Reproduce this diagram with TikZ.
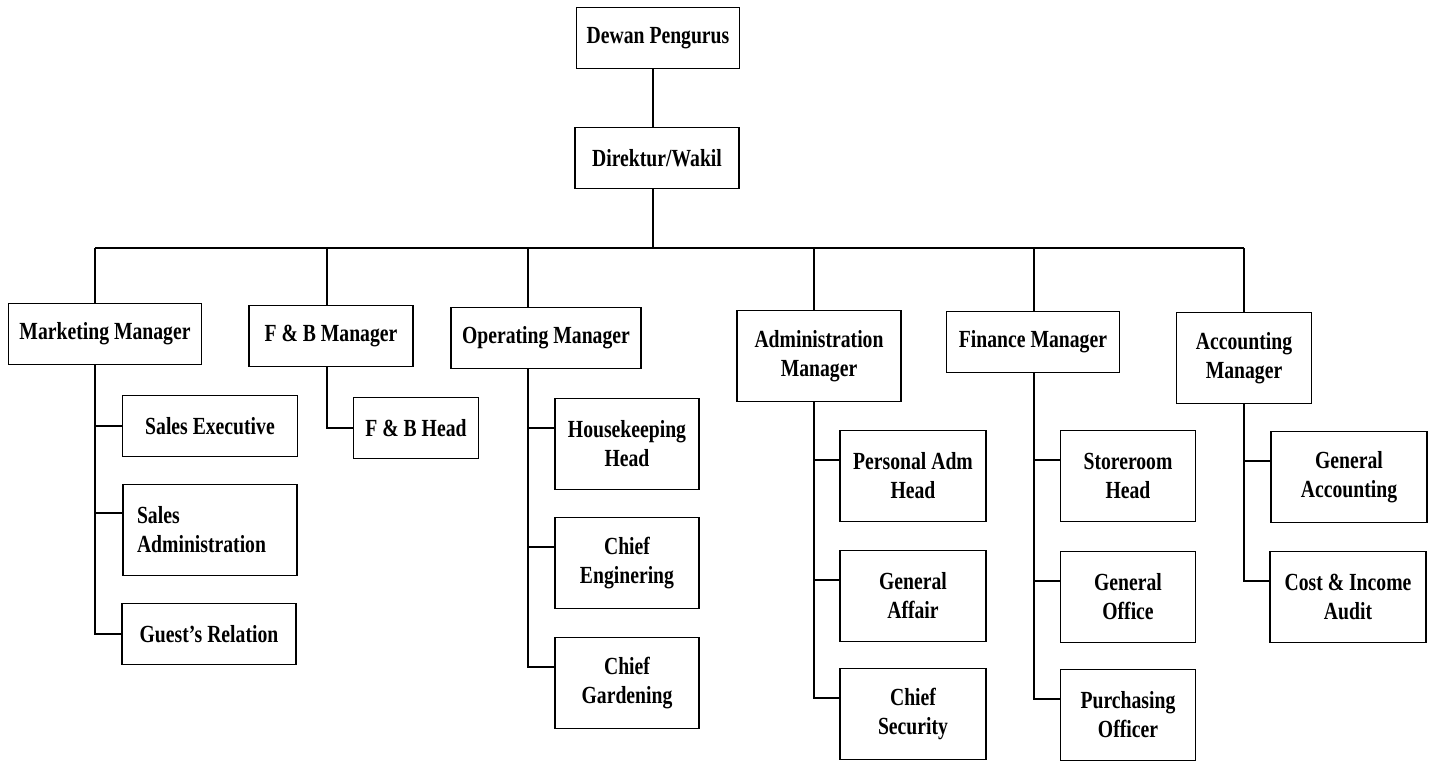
\documentclass[tikz,border=0pt]{standalone}
\usepackage{fontspec}
\setmainfont{Liberation Serif}[FakeStretch=0.8]

\begin{document}
\begin{tikzpicture}[x=0.02cm,y=-0.02cm]
  \tikzstyle{cell} = [rectangle,draw=black,line width=1.1pt,minimum
  height=1.22cm,align=center,inner sep=2pt,font=\fontsize{14}{16.5}\selectfont\bfseries]
  \tikzstyle{tcell} = [cell,minimum height=1.82cm]
  \tikzstyle{link} = [line width=1.1pt]

  \useasboundingbox (0,0) rectangle (1433,762);

  % top of the chart
  \node[cell,minimum width=3.26cm] (dewan) at (658,38) {Dewan Pengurus};
  \node[cell,minimum width=3.28cm] (direktur) at (657,158) {Direktur/Wakil};

  % managers
  \node[cell,minimum width=3.86cm] (mkt) at (105,334) {Marketing Manager};
  \node[cell,minimum width=3.28cm] (fnb) at (331,336) {F \& B Manager};
  \node[cell,minimum width=3.80cm] (ops) at (546,338) {Operating Manager};
  \node[tcell,minimum width=3.28cm] (adm) at (819,356) {Administration\\Manager};
  \node[cell,minimum width=3.46cm] (fin) at (1033,342) {Finance Manager};
  \node[tcell,minimum width=2.70cm] (acc) at (1244,358) {Accounting\\Manager};

  % staff under marketing
  \node[cell,minimum width=3.50cm] (salesexec) at (210,426) {Sales Executive};
  \node[tcell,minimum width=3.48cm,align=left,text width=2.92cm,
  inner xsep=0.28cm] (salesadm) at (210,530) {Sales\\Administration};
  \node[cell,minimum width=3.48cm] (guest) at (209,634) {Guest's Relation};

  % staff under f&b
  \node[cell,minimum width=2.50cm] (fnbhead) at (416,428) {F \& B Head};

  % staff under operating
  \node[tcell,minimum width=2.88cm] (hk) at (627,444) {Housekeeping\\Head};
  \node[tcell,minimum width=2.88cm] (eng) at (627,563) {Chief\\Enginering};
  \node[tcell,minimum width=2.88cm] (gard) at (627,683) {Chief\\Gardening};

  % staff under administration
  \node[tcell,minimum width=2.92cm] (pers) at (913,476) {Personal Adm\\Head};
  \node[tcell,minimum width=2.92cm] (affair) at (913,596) {General\\Affair};
  \node[tcell,minimum width=2.92cm] (sec) at (913,714) {Chief\\Security};

  % staff under finance
  \node[tcell,minimum width=2.70cm] (store) at (1128,476) {Storeroom\\Head};
  \node[tcell,minimum width=2.70cm] (office) at (1128,597) {General\\Office};
  \node[tcell,minimum width=2.70cm] (purch) at (1128,715) {Purchasing\\Officer};

  % staff under accounting
  \node[tcell,minimum width=3.12cm] (genacc) at (1349,477) {General\\Accounting};
  \node[tcell,minimum width=3.12cm] (audit) at (1348,597) {Cost \& Income\\Audit};

  % branch points on the bar
  \coordinate (top) at (653,248);
  \coordinate (bmkt) at (95,248);
  \coordinate (bfnb) at (327,248);
  \coordinate (bops) at (528,248);
  \coordinate (badm) at (814,248);
  \coordinate (bfin) at (1034,248);
  \coordinate (bacc) at (1244,248);

  % where the stubs meet the two line boxes
  \coordinate (sain) at ([yshift=0.34cm]salesadm.west);
  \coordinate (hkin) at ([yshift=0.32cm]hk.west);
  \coordinate (engin) at ([yshift=0.32cm]eng.west);
  \coordinate (gardin) at ([yshift=0.32cm]gard.west);
  \coordinate (persin) at ([yshift=0.32cm]pers.west);
  \coordinate (affairin) at ([yshift=0.32cm]affair.west);
  \coordinate (secin) at ([yshift=0.32cm]sec.west);
  \coordinate (storein) at ([yshift=0.32cm]store.west);
  \coordinate (officein) at ([yshift=0.32cm]office.west);
  \coordinate (purchin) at ([yshift=0.32cm]purch.west);
  \coordinate (genaccin) at ([yshift=0.32cm]genacc.west);
  \coordinate (auditin) at ([yshift=0.32cm]audit.west);

  \draw[link] (dewan.south -| top) -- (direktur.north -| top);
  \draw[link] (direktur.south -| top) -- (top);
  \draw[link] (bmkt) -- (bacc);

  \draw[link] (bmkt) -- (bmkt |- mkt.north);
  \draw[link] (bfnb) -- (bfnb |- fnb.north);
  \draw[link] (bops) -- (bops |- ops.north);
  \draw[link] (badm) -- (badm |- adm.north);
  \draw[link] (bfin) -- (bfin |- fin.north);
  \draw[link] (bacc) -- (bacc |- acc.north);

  \draw[link] (bmkt |- mkt.south) |- (guest.west);
  \draw[link] (bmkt |- salesexec.west) -- (salesexec.west);
  \draw[link] (bmkt |- sain) -- (sain);

  \draw[link] (bfnb |- fnb.south) |- (fnbhead.west);

  \draw[link] (bops |- ops.south) |- (gardin);
  \draw[link] (bops |- hkin) -- (hkin);
  \draw[link] (bops |- engin) -- (engin);

  \draw[link] (badm |- adm.south) |- (secin);
  \draw[link] (badm |- persin) -- (persin);
  \draw[link] (badm |- affairin) -- (affairin);

  \draw[link] (bfin |- fin.south) |- (purchin);
  \draw[link] (bfin |- storein) -- (storein);
  \draw[link] (bfin |- officein) -- (officein);

  \draw[link] (bacc |- acc.south) |- (auditin);
  \draw[link] (bacc |- genaccin) -- (genaccin);

\end{tikzpicture}
\end{document}
